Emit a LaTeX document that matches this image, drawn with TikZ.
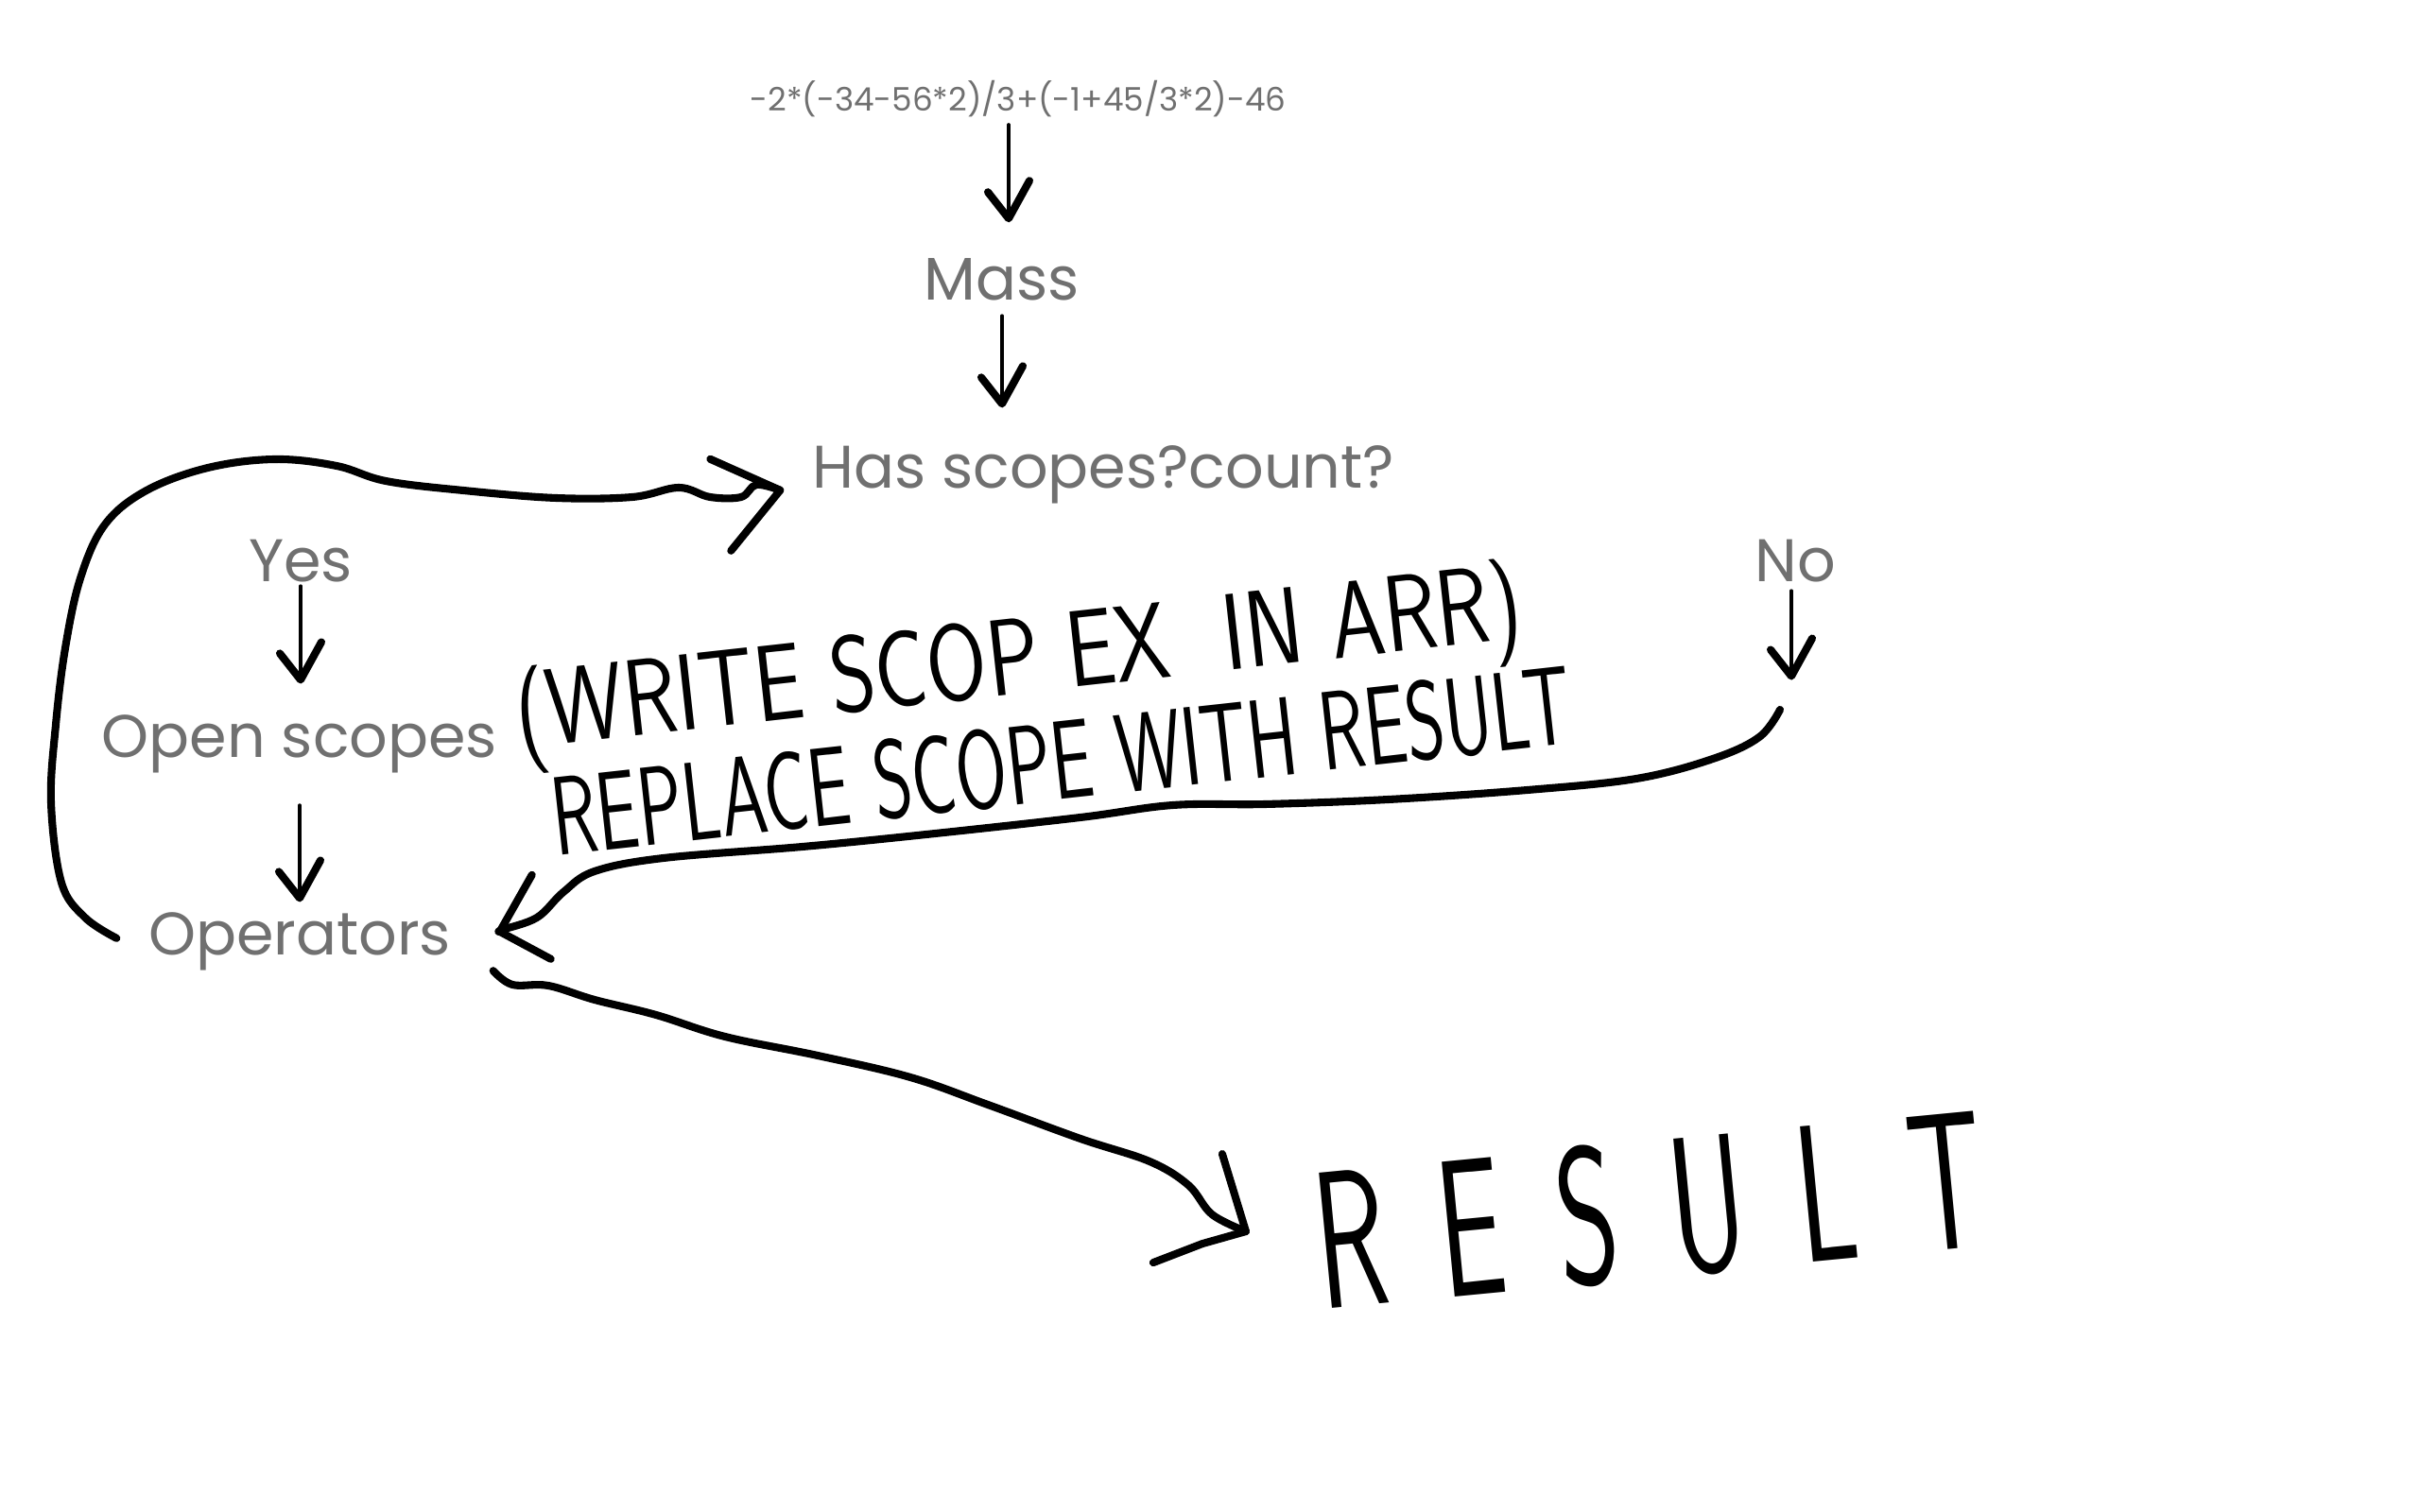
\documentclass[tikz,border=0pt]{standalone}
\usepackage{fontspec}
\setmainfont{Poppins}
\usepackage{graphicx}
\usepackage{tikz}
\usetikzlibrary{calc}
\definecolor{labelgray}{HTML}{707070}
\tikzset{
  lbl/.style={inner sep=0pt, text=labelgray, font=\fontsize{18.1}{22}\selectfont},
  hand/.style={inner sep=0pt, text=black, font=\sffamily\fontsize{30}{36}\selectfont},
  pen/.style={line width=2.3pt, line cap=round, line join=round},
  thinpen/.style={line width=1.1pt, line cap=round},
}
\newcommand{\handarrow}[5][0]{
\coordinate (hastart) at ($(#2.south)+(#1,-#4)$);
\coordinate (hatip) at ($(#2.south |- #3.north)+(#1,#5)$);
\draw[thinpen] (hastart) -- (hatip);
\draw[pen] ($(hatip)+(-0.22,0.28)$) -- (hatip) -- ($(hatip)+(0.22,0.40)$);
}

\begin{document}
\begin{tikzpicture}
\fill[white] (0,0) rectangle (25.6,16);
\useasboundingbox (0,0) rectangle (25.6,16);
% labels
\node[lbl, anchor=base] (expr) at (10.77,14.82) {\resizebox{5.67cm}{!}{-2*(-34-56*2)/3+(-1+45/3*2)-46}};
\node[lbl, anchor=base] (mass) at (10.60,12.82) {Mass};
\node[lbl, anchor=base] (has) at (11.67,10.83) {Has scopes?count?};
\node[lbl, anchor=base] (yes) at (3.18,9.84) {Yes};
\node[lbl, anchor=base] (no) at (18.99,9.84) {No};
\node[lbl, anchor=base] (open) at (3.17,7.98) {Open scopes};
\node[lbl, anchor=base] (ops) at (3.17,5.89) {Operators};
\node[inner sep=0pt] (noturn) at (18.83,8.49) {};
% hand notes
\node[hand, rotate=6.3] (scopnote) at (10.78,8.95) {\resizebox{10.7cm}{0.86cm}{(WRITE SCOP EX\ \ IN ARR)}};
\node[hand, rotate=6.3] (replnote) at (11.23,7.95) {\resizebox{10.85cm}{0.84cm}{REPLACE SCOPE WITH RESULT}};
\node[hand, rotate=5.5] (result) at (17.45,3.2) {\resizebox{7.1cm}{1.47cm}{R\kern.45em E\kern.45em S\kern.45em U\kern.45em L\kern.45em T}};
% down arrows
\handarrow[-0.1]{expr}{mass}{0.07}{0.42}
\handarrow{mass}{has}{0.15}{0.44}
\handarrow{yes}{open}{0.03}{0.37}
\handarrow{open}{ops}{0.33}{0.15}
\handarrow[-0.04]{no}{noturn}{0.08}{0.33}
% loop back
\coordinate (loopstart) at ($(ops.west)+(-0.33,0.04)$);
\coordinate (looptip) at ($(has.west)+(-0.33,-0.16)$);
\draw[pen] plot[smooth, tension=0.6] coordinates {(loopstart) (0.90,6.29) (0.65,6.66) (0.54,7.51) (0.59,8.33) (0.69,9.14) (0.85,9.88) (1.11,10.45) (1.55,10.81) (2.20,11.05) (2.91,11.14) (3.56,11.07) (4.08,10.91) (4.90,10.81) (5.88,10.73) (6.69,10.74) (7.18,10.84) (7.51,10.74) (7.84,10.74) (8.00,10.87) (looptip)};
\draw[pen] ($(looptip)+(-0.74,0.33)$) -- (looptip) -- ($(looptip)+(-0.52,-0.64)$);
% no branch back to operators
\coordinate (opstip) at ($(ops.east)+(0.51,0.11)$);
\draw[pen] plot[smooth, tension=0.6] coordinates {(noturn) (18.61,8.20) (18.12,7.97) (17.31,7.76) (16.16,7.64) (14.69,7.54) (13.39,7.49) (12.41,7.48) (11.43,7.35) (9.80,7.17) (8.49,7.04) (7.02,6.92) (6.29,6.78) (5.96,6.56) (5.68,6.29) (5.31,6.16) (opstip)};
\draw[pen] ($(opstip)+(0.34,0.60)$) -- (opstip) -- ($(opstip)+(0.54,-0.29)$);
% to result
\coordinate (opsout) at ($(ops.south east)+(0.44,0.01)$);
\coordinate (restip) at ($(result.west)+(-0.73,0.11)$);
\draw[pen] plot[smooth, tension=0.6] coordinates {(opsout) (5.42,5.58) (5.80,5.57) (6.29,5.42) (6.94,5.26) (7.67,5.03) (8.65,4.83) (9.63,4.60) (10.45,4.31) (11.43,3.95) (12.16,3.71) (12.57,3.46) (12.82,3.15) (restip)};
\draw[pen] ($(restip)+(-0.25,0.82)$) -- (restip) -- ($(restip)+(-0.46,-0.13)$) -- ($(restip)+(-0.98,-0.33)$);
\end{tikzpicture}
\end{document}
